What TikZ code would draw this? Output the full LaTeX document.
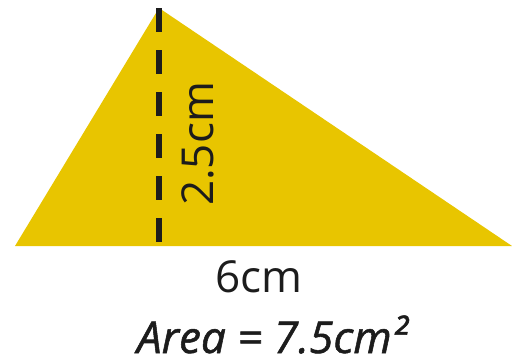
\documentclass[tikz,border=0pt]{standalone}
\usepackage{fontspec}
\setmainfont{Open Sans}
\newfontfamily\areafont{Open Sans}[ItalicFeatures={FakeBold=1.2}]
\definecolor{triyellow}{HTML}{E8C500}
\definecolor{ink}{HTML}{1C1C1C}
\tikzset{
  label text/.style={text=ink, inner sep=0pt, font=\fontsize{44}{48}\selectfont},
  area text/.style={text=ink, inner sep=0pt, font=\areafont\fontsize{44}{48}\selectfont\itshape},
  heightline/.style={draw=ink, line width=6pt, dash pattern=on 24pt off 18pt}
}
\begin{document}
\begin{tikzpicture}[x=1pt,y=-1pt]
\useasboundingbox (0,0) rectangle (512,360);
\coordinate (L) at (15,246);
\coordinate (T) at (159,8);
\coordinate (R) at (512,246);
\coordinate (F) at (159,242);
\fill[triyellow] (L) -- (T) -- (R) -- cycle;
\draw[heightline] (T) -- (F);
\node[label text, rotate=90] (h) at (198,144) {2.5cm};
\node[label text, anchor=base] (b) at (259,292) {6cm};
\node[area text, anchor=base] (a) at (272,353) {Area = 7.5cm²};
\end{tikzpicture}
\end{document}
